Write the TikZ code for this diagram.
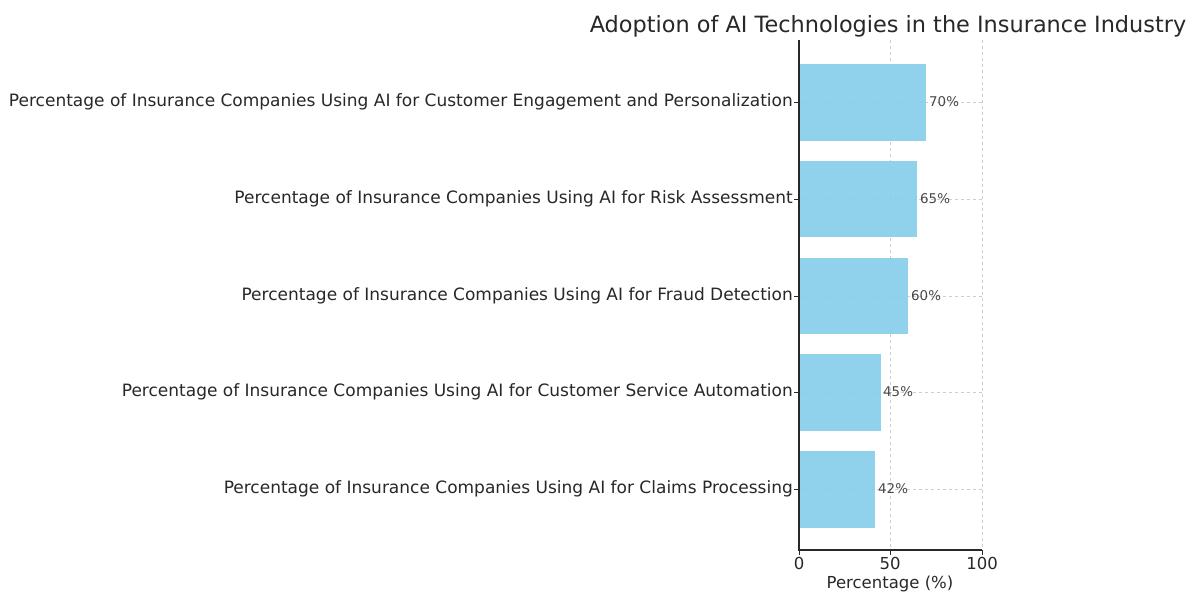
\documentclass[tikz,border=0pt]{standalone}
\usepackage{fontspec}
\setmainfont{DejaVu Sans}
\usepackage{tikz}
\usetikzlibrary{positioning}

\definecolor{barblue}{RGB}{135,206,235}
\definecolor{txt}{RGB}{40,40,40}
\definecolor{gridgray}{RGB}{205,205,205}

\tikzset{
  catlabel/.style={anchor=east, inner sep=0pt, text=txt, font=\fontsize{17}{20}\selectfont},
  vallabel/.style={anchor=west, inner sep=0pt, text=txt!85, font=\fontsize{13.4}{16}\selectfont},
  ticklabel/.style={anchor=north, inner sep=0pt, text=txt, font=\fontsize{16.5}{19}\selectfont},
  gridline/.style={gridgray, dashed, line width=0.6pt},
  bar/.style={fill=barblue, fill opacity=0.92, draw=none}
}

\begin{document}
\begin{tikzpicture}[x=1pt, y=-1pt]
% Page frame
\useasboundingbox[fill=white] (0,0) rectangle (1194,594);

% Title
\node[inner sep=0pt, text=txt, font=\fontsize{22.4}{26}\selectfont] (title) at (888,26) {Adoption of AI Technologies in the Insurance Industry};

% Draw grid lines
\draw[gridline] (890,40) -- (890,550);
\draw[gridline] (982,40) -- (982,550);
\draw[gridline] (799,102) -- (982,102);
\draw[gridline] (799,199) -- (982,199);
\draw[gridline] (799,296) -- (982,296);
\draw[gridline] (799,392) -- (982,392);
\draw[gridline] (799,489) -- (982,489);

% Draw bars
\fill[bar] (799,64) rectangle (926.4,141);
\fill[bar] (799,161) rectangle (917.3,237);
\fill[bar] (799,258) rectangle (908.2,334);
\fill[bar] (799,354) rectangle (880.9,431);
\fill[bar] (799,451) rectangle (875.4,528);

% Draw axes
\draw[txt, line width=1.1pt] (799,40) -- (799,550) -- (982,550);

% Ticks on y axis
\draw[txt, line width=1pt] (794,102) -- (799,102);
\draw[txt, line width=1pt] (794,199) -- (799,199);
\draw[txt, line width=1pt] (794,296) -- (799,296);
\draw[txt, line width=1pt] (794,392) -- (799,392);
\draw[txt, line width=1pt] (794,489) -- (799,489);

% Ticks on x axis
\draw[txt, line width=1pt] (799,550) -- (799,555);
\draw[txt, line width=1pt] (890,550) -- (890,555);
\draw[txt, line width=1pt] (982,550) -- (982,555);

% Label categories
\node[catlabel] (cat1) at (793,102) {Percentage of Insurance Companies Using AI for Customer Engagement and Personalization};
\node[catlabel] (cat2) at (793,199) {Percentage of Insurance Companies Using AI for Risk Assessment};
\node[catlabel] (cat3) at (793,296) {Percentage of Insurance Companies Using AI for Fraud Detection};
\node[catlabel] (cat4) at (793,392) {Percentage of Insurance Companies Using AI for Customer Service Automation};
\node[catlabel] (cat5) at (793,489) {Percentage of Insurance Companies Using AI for Claims Processing};

% Label values
\node[vallabel] (val1) at (929,102) {70\%};
\node[vallabel] (val2) at (920,199) {65\%};
\node[vallabel] (val3) at (911,296) {60\%};
\node[vallabel] (val4) at (883,392) {45\%};
\node[vallabel] (val5) at (878,489) {42\%};

% Label x axis
\node[ticklabel] (x0) at (799,557) {0};
\node[ticklabel] (x50) at (890,557) {50};
\node[ticklabel] (x100) at (982,557) {100};
\node[ticklabel] (xlab) at (890,576) {Percentage (\%)};
\end{tikzpicture}
\end{document}
